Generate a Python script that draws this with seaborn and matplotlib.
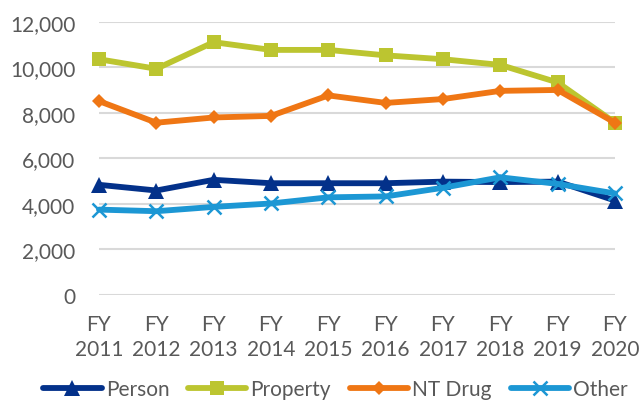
import matplotlib
matplotlib.use("Agg")
import matplotlib.pyplot as plt
import seaborn as sns
import pandas as pd
from matplotlib.ticker import FuncFormatter

years = ["FY\n2011", "FY\n2012", "FY\n2013", "FY\n2014", "FY\n2015",
         "FY\n2016", "FY\n2017", "FY\n2018", "FY\n2019", "FY\n2020"]
person = [4830, 4580, 5050, 4900, 4900, 4900, 4970, 4950, 4970, 4140]
property_ = [10350, 9930, 11100, 10760, 10760, 10520, 10350, 10100, 9330, 7560]
nt_drug = [8510, 7560, 7790, 7860, 8760, 8430, 8600, 8960, 9000, 7560]
other = [3740, 3670, 3860, 4010, 4280, 4320, 4700, 5160, 4870, 4450]

series_names = ["Person", "Property", "NT Drug", "Other"]
colors = {"Person": "#03318A", "Property": "#BCC530", "NT Drug": "#EF7614", "Other": "#1C97D4"}
markers = {"Person": "^", "Property": "s", "NT Drug": "D", "Other": "x"}
msizes = {"Person": 11, "Property": 10.5, "NT Drug": 7.5, "Other": 10}

rows = []
for name, vals in zip(series_names, [person, property_, nt_drug, other]):
    for i, (y, v) in enumerate(zip(years, vals)):
        rows.append({"idx": i, "year": y, "series": name, "value": v})
df = pd.DataFrame(rows)

sns.set_theme(style="white")
plt.rcParams["font.family"] = ["Lato", "DejaVu Sans"]

fig = plt.figure(figsize=(6.39, 4.02), dpi=100)
ax = fig.add_axes([99 / 639, 1 - 295.7 / 402, (615 - 99) / 639, (295.7 - 22.7) / 402])

FS = 15
for name in series_names:
    sub = df[df["series"] == name]
    if name == "Other":
        sns.lineplot(data=sub, x="idx", y="value", ax=ax, color=colors[name], lw=4.2,
                     marker="x", markersize=msizes[name], markeredgewidth=1.8,
                     markeredgecolor=colors[name], label=name, clip_on=False, zorder=3)
    else:
        sns.lineplot(data=sub, x="idx", y="value", ax=ax, color=colors[name], lw=4.2,
                     marker=markers[name], markersize=msizes[name], markeredgewidth=0,
                     markerfacecolor=colors[name], label=name, clip_on=False, zorder=3)

ax.set_xlim(0, 9)
ax.set_ylim(0, 12000)
ax.set_yticks(range(0, 12001, 2000))
ax.yaxis.set_major_formatter(FuncFormatter(lambda v, p: f"{int(v):,}"))
ax.set_xticks(range(len(years)))
ax.set_xticklabels(years, linespacing=1.3)
ax.grid(axis="y", color="#D9D9D9", lw=1.5)
ax.set_axisbelow(True)
for s in ax.spines.values():
    s.set_visible(False)
ax.tick_params(axis="y", length=0, pad=17, labelsize=FS, labelcolor="#595959")
ax.tick_params(axis="x", length=0, pad=14, labelsize=FS, labelcolor="#595959")
ax.set_xlabel("")
ax.set_ylabel("")

handles, labels = ax.get_legend_handles_labels()
ax.get_legend().remove()
fig.legend(handles, labels, loc="center", bbox_to_anchor=(0.525, 0.03), ncol=4,
           frameon=False, fontsize=FS, labelcolor="#595959", handlelength=2.8,
           handletextpad=0.2, columnspacing=0.9, borderpad=0.2)

fig.savefig("out.png", dpi=100)
